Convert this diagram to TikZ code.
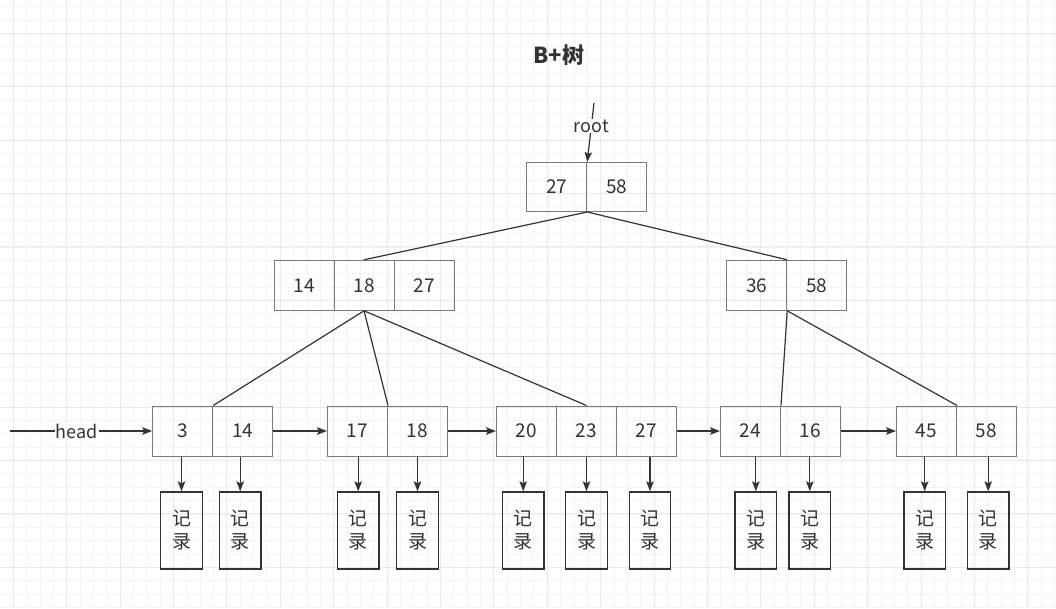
\documentclass[tikz,border=0pt]{standalone}
\usepackage{fontspec}
\setmainfont{Noto Sans CJK SC}
\usetikzlibrary{arrows.meta}
\definecolor{txt}{HTML}{333333}
\definecolor{cellline}{HTML}{7A7A7A}
\definecolor{edge}{HTML}{333333}
\definecolor{gminor}{RGB}{244,244,244}
\definecolor{gmajor}{RGB}{234,234,234}
\tikzset{
  cell/.style={draw=cellline, line width=1pt, minimum width=60pt, minimum height=50pt, inner sep=0pt, text=txt, font=\fontsize{19}{22}\selectfont},
  rec/.style={draw=edge, line width=1.4pt, minimum width=41.5pt, minimum height=77pt, inner sep=0pt, text=txt, align=center, font=\fontsize{19}{23}\selectfont},
  link/.style={draw=edge, line width=1.2pt},
  arr/.style={link, -{Stealth[length=10pt,width=7.5pt,inset=2pt]}},
  lbl/.style={fill=white, inner sep=1pt, text=txt, font=\fontsize{18}{20}\selectfont},
}
\begin{document}
\begin{tikzpicture}[x=1pt,y=-1pt]
\useasboundingbox (0,0) rectangle (1056,608);
\fill[white] (0,0) rectangle (1056,608);
% grid
\foreach \i in {0,...,79} {
  \draw[gminor, line width=1pt] ({13.3+13.35*\i},0) -- ({13.3+13.35*\i},608);
}
\foreach \i in {0,...,46} {
  \draw[gminor, line width=1pt] (0,{6.7+13.35*\i}) -- (1056,{6.7+13.35*\i});
}
\foreach \i in {0,...,19} {
  \draw[gmajor, line width=1pt] ({13.3+53.4*\i},0) -- ({13.3+53.4*\i},608);
}
\foreach \i in {0,...,11} {
  \draw[gmajor, line width=1pt] (0,{33.3+53.4*\i}) -- (1056,{33.3+53.4*\i});
}

% title
\node[text=txt, font=\fontsize{22}{24}\selectfont\bfseries] (title) at (559,55) {B+树};

% root
\node[cell, minimum height=49pt] (r1) at (556.7,187) {27};
\node[cell, minimum height=49pt] (r2) at (616.7,187) {58};

% level 2
\node[cell] (a1) at (304,285.3) {14};
\node[cell] (a2) at (364,285.3) {18};
\node[cell] (a3) at (424,285.3) {27};
\node[cell] (b1) at (756.7,285.3) {36};
\node[cell] (b2) at (816.7,285.3) {58};

% leaves
\node[cell] (l11) at (182.7,431) {3};
\node[cell] (l12) at (242.7,431) {14};
\node[cell] (l21) at (357.5,431) {17};
\node[cell] (l22) at (417.5,431) {18};
\node[cell] (l31) at (526.5,431) {20};
\node[cell] (l32) at (586.5,431) {23};
\node[cell] (l33) at (646.5,431) {27};
\node[cell] (l41) at (750.5,431) {24};
\node[cell] (l42) at (810.5,431) {16};
\node[cell] (l51) at (926.5,431) {45};
\node[cell] (l52) at (986.5,431) {58};

% records
\node[rec] (c1) at (181.5,530.5) {记\\录};
\node[rec] (c2) at (240.2,530.5) {记\\录};
\node[rec] (c3) at (358.2,530.5) {记\\录};
\node[rec] (c4) at (417.5,530.5) {记\\录};
\node[rec] (c5) at (523.2,530.5) {记\\录};
\node[rec] (c6) at (586.5,530.5) {记\\录};
\node[rec] (c7) at (650,530.5) {记\\录};
\node[rec] (c8) at (755.8,530.5) {记\\录};
\node[rec] (c9) at (809.8,530.5) {记\\录};
\node[rec] (c10) at (924.7,530.5) {记\\录};
\node[rec] (c11) at (988.2,530.5) {记\\录};

% root pointer
\coordinate (rootstart) at (594,103);
\draw[arr] (rootstart) -- node[lbl, pos=0.39] (rootlbl) {root} (r1.north east);

% tree edges
\draw[link] (r1.south east) -- (a2.north);
\draw[link] (r1.south east) -- (b1.north east);
\draw[link] (a2.south) -- (l11.north east);
\draw[link] (a2.south) -- (l21.north east);
\draw[link] (a2.south) -- (l32.north);
\draw[link] (b1.south east) -- (l41.north east);
\draw[link] (b1.south east) -- (l51.north east);

% leaf chain
\coordinate (headstart) at (10,431);
\draw[arr] (headstart) -- node[lbl, pos=0.47] (headlbl) {head} (l11.west);
\draw[arr] (l12.east) -- (l21.west);
\draw[arr] (l22.east) -- (l31.west);
\draw[arr] (l33.east) -- (l41.west);
\draw[arr] (l42.east) -- (l51.west);

% record pointers
\draw[arr] (c1 |- l11.south) -- (c1.north);
\draw[arr] (c2 |- l12.south) -- (c2.north);
\draw[arr] (c3 |- l21.south) -- (c3.north);
\draw[arr] (c4 |- l22.south) -- (c4.north);
\draw[arr] (c5 |- l31.south) -- (c5.north);
\draw[arr] (c6 |- l32.south) -- (c6.north);
\draw[arr] (c7 |- l33.south) -- (c7.north);
\draw[arr] (c8 |- l41.south) -- (c8.north);
\draw[arr] (c9 |- l42.south) -- (c9.north);
\draw[arr] (c10 |- l51.south) -- (c10.north);
\draw[arr] (c11 |- l52.south) -- (c11.north);
\end{tikzpicture}
\end{document}
